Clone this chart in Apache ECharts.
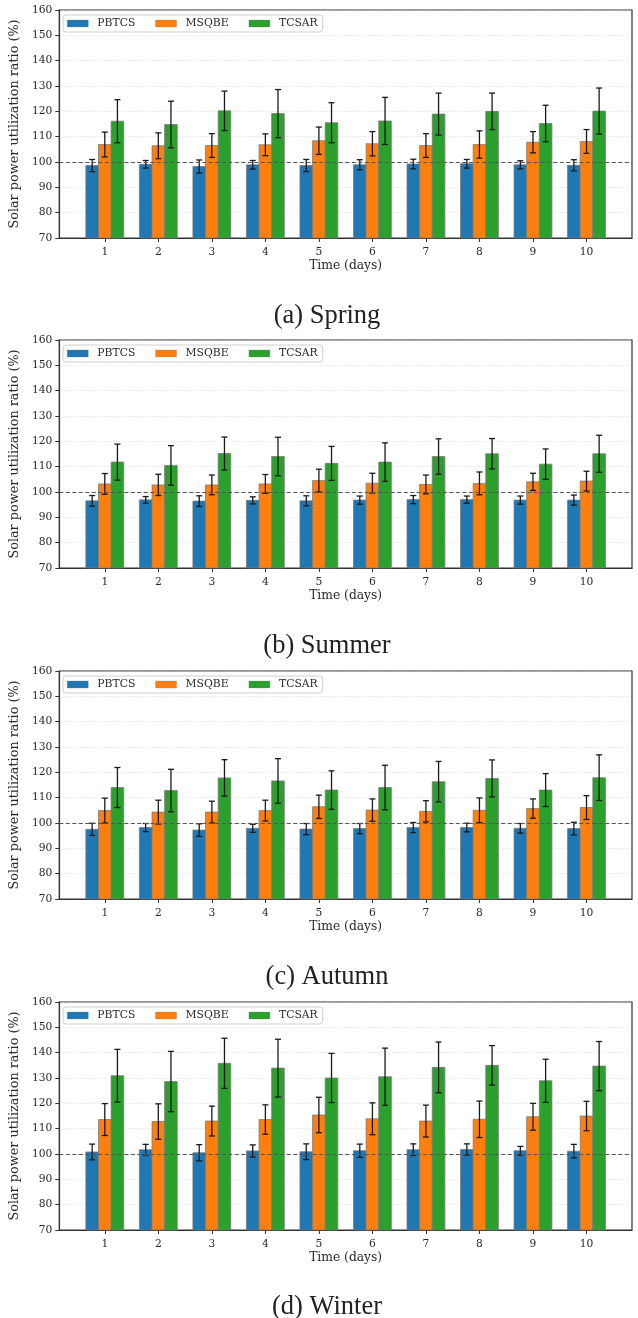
<!DOCTYPE html>
<html>
<head>
<meta charset="utf-8">
<script src="https://cdn.jsdelivr.net/npm/echarts@6/dist/echarts.min.js"></script>
<style>
html,body{margin:0;padding:0;background:#fff;}
#chart{width:638px;height:1318px;}
</style>
</head>
<body>
<div id="chart"></div>
<script>
// ---------- data ----------
const DAYS = [1, 2, 3, 4, 5, 6, 7, 8, 9, 10];
const METHODS = ['PBTCS', 'MSQBE', 'TCSAR'];
const PANEL_TITLES = ['(a) Spring', '(b) Summer', '(c) Autumn', '(d) Winter'];
const Y_TICKS = [70, 80, 90, 100, 110, 120, 130, 140, 150, 160];
const REF_VALUE = 100;

const SPRING_PBTCS = [98.6, 99.1, 98.2, 98.9, 98.6, 98.9, 99.2, 99.3, 98.9, 98.7];
const SPRING_PBTCS_ERR = [2.4, 1.5, 2.6, 1.7, 2.4, 2.0, 1.9, 1.7, 1.6, 2.2];
const SPRING_MSQBE = [106.9, 106.4, 106.5, 106.8, 108.4, 107.2, 106.5, 106.9, 107.8, 108.1];
const SPRING_MSQBE_ERR = [4.9, 5.1, 4.7, 4.3, 5.4, 4.8, 4.7, 5.4, 4.2, 4.7];
const SPRING_TCSAR = [116.1, 114.8, 120.2, 119.1, 115.5, 116.2, 118.9, 120.0, 115.2, 120.1];
const SPRING_TCSAR_ERR = [8.5, 9.2, 7.8, 9.5, 7.9, 9.3, 8.3, 7.2, 7.2, 9.1];

const SUMMER_PBTCS = [96.5, 96.9, 96.4, 96.7, 96.5, 96.8, 97.0, 97.0, 96.8, 96.8];
const SUMMER_PBTCS_ERR = [2.1, 1.3, 2.1, 1.4, 2.0, 1.6, 1.6, 1.4, 1.6, 2.0];
const SUMMER_MSQBE = [103.2, 102.8, 102.8, 103.2, 104.5, 103.5, 103.0, 103.4, 104.0, 104.3];
const SUMMER_MSQBE_ERR = [4.1, 4.2, 3.9, 3.7, 4.5, 3.9, 3.7, 4.5, 3.4, 3.9];
const SUMMER_TCSAR = [111.8, 110.5, 115.2, 114.0, 111.3, 111.8, 114.0, 115.1, 111.0, 115.1];
const SUMMER_TCSAR_ERR = [7.1, 7.8, 6.5, 7.6, 6.7, 7.6, 7.0, 6.0, 6.0, 7.3];

const AUTUMN_PBTCS = [97.5, 98.2, 97.2, 97.9, 97.6, 97.8, 98.2, 98.2, 97.9, 97.8];
const AUTUMN_PBTCS_ERR = [2.4, 1.6, 2.5, 1.6, 2.2, 2.0, 2.0, 1.7, 1.9, 2.5];
const AUTUMN_MSQBE = [104.9, 104.3, 104.3, 104.9, 106.4, 105.1, 104.6, 105.0, 105.7, 106.1];
const AUTUMN_MSQBE_ERR = [4.9, 4.7, 4.3, 4.1, 4.6, 4.4, 4.2, 4.9, 3.8, 4.7];
const AUTUMN_TCSAR = [114.0, 112.8, 117.8, 116.6, 113.0, 114.0, 116.3, 117.6, 113.0, 117.9];
const AUTUMN_TCSAR_ERR = [7.9, 8.4, 7.2, 8.8, 7.6, 8.8, 8.0, 7.3, 6.5, 9.0];

const WINTER_PBTCS = [100.8, 101.7, 100.5, 101.2, 100.9, 101.3, 101.7, 101.8, 101.3, 101.1];
const WINTER_PBTCS_ERR = [3.1, 2.1, 3.2, 2.4, 3.1, 2.6, 2.3, 2.2, 1.7, 2.7];
const WINTER_MSQBE = [113.6, 112.8, 113.0, 113.6, 115.4, 113.9, 113.0, 113.7, 114.7, 115.0];
const WINTER_MSQBE_ERR = [6.3, 7.0, 5.9, 5.8, 7.0, 6.3, 6.3, 7.2, 5.3, 5.8];
const WINTER_TCSAR = [130.9, 128.6, 135.8, 133.9, 130.0, 130.5, 134.2, 135.0, 128.9, 134.7];
const WINTER_TCSAR_ERR = [10.4, 11.9, 9.9, 11.4, 9.7, 11.3, 10.0, 7.8, 8.5, 9.7];

const PANELS = [
  [[SPRING_PBTCS, SPRING_PBTCS_ERR], [SPRING_MSQBE, SPRING_MSQBE_ERR], [SPRING_TCSAR, SPRING_TCSAR_ERR]],
  [[SUMMER_PBTCS, SUMMER_PBTCS_ERR], [SUMMER_MSQBE, SUMMER_MSQBE_ERR], [SUMMER_TCSAR, SUMMER_TCSAR_ERR]],
  [[AUTUMN_PBTCS, AUTUMN_PBTCS_ERR], [AUTUMN_MSQBE, AUTUMN_MSQBE_ERR], [AUTUMN_TCSAR, AUTUMN_TCSAR_ERR]],
  [[WINTER_PBTCS, WINTER_PBTCS_ERR], [WINTER_MSQBE, WINTER_MSQBE_ERR], [WINTER_TCSAR, WINTER_TCSAR_ERR]]
];

// ---------- style ----------
const COLORS = ['#1f77b4', '#ff7f0e', '#2ca02c'];
const X_MIN = 0.15, X_MAX = 10.85;
const Y_MIN = 70, Y_MAX = 160;
const BAR_W = 0.236;
const OFFSETS = [-BAR_W, 0, BAR_W];
const GRID_TOPS = [10, 340, 671, 1002];
const TITLE_TOPS = [298, 628, 959, 1289];
const GRID_H = 228;
const GRID_LEFT = 57, GRID_RIGHT = 6;
const SERIF = 'DejaVu Serif';
const TEXT_COLOR = '#2a2a2a';

function makeRender(offset) {
  return function (params, api) {
    const x = api.value(0) + offset;
    const v = api.value(1), e = api.value(2);
    const top = api.coord([x, v]);
    const base = api.coord([x, Y_MIN]);
    const hi = api.coord([x, v + e]);
    const lo = api.coord([x, v - e]);
    const w = api.size([BAR_W, 0])[0];
    const cap = 3;
    const errStyle = { stroke: '#1a1a1a', lineWidth: 1.3 };
    return {
      type: 'group',
      children: [
        { type: 'rect', shape: { x: top[0] - w / 2, y: top[1], width: w, height: base[1] - top[1] },
          style: { fill: api.visual('color'), stroke: 'rgba(120,120,120,0.75)', lineWidth: 1 } },
        { type: 'line', shape: { x1: top[0], y1: hi[1], x2: top[0], y2: lo[1] }, style: errStyle, z2: 5 },
        { type: 'line', shape: { x1: top[0] - cap, y1: hi[1], x2: top[0] + cap, y2: hi[1] }, style: errStyle, z2: 5 },
        { type: 'line', shape: { x1: top[0] - cap, y1: lo[1], x2: top[0] + cap, y2: lo[1] }, style: errStyle, z2: 5 }
      ]
    };
  };
}

const grids = [], xAxes = [], yAxes = [], series = [], legends = [], titles = [];
PANELS.forEach((panel, p) => {
  grids.push({ left: GRID_LEFT, right: GRID_RIGHT, top: GRID_TOPS[p], height: GRID_H,
    show: true, borderColor: '#333', borderWidth: 1.2, backgroundColor: 'transparent' });
  xAxes.push({
    type: 'value', gridIndex: p, min: X_MIN, max: X_MAX,
    name: 'Time (days)', nameLocation: 'middle', nameGap: 22,
    nameTextStyle: { fontFamily: SERIF, fontSize: 12.3, color: TEXT_COLOR },
    axisLine: { show: true, lineStyle: { color: '#333', width: 1.2 } },
    axisTick: { show: true, length: 4, lineStyle: { color: '#333' }, customValues: DAYS },
    axisLabel: { fontFamily: SERIF, fontSize: 10.7, color: TEXT_COLOR, margin: 9, customValues: DAYS },
    splitLine: { show: false }
  });
  yAxes.push({
    type: 'value', gridIndex: p, min: Y_MIN, max: Y_MAX, interval: 10,
    name: 'Solar power utilization ratio (%)', nameLocation: 'middle', nameGap: 31, nameRotate: 90,
    nameTextStyle: { fontFamily: SERIF, fontSize: 12.8, color: TEXT_COLOR },
    axisLine: { show: true, lineStyle: { color: '#333', width: 1.2 } },
    axisTick: { show: true, length: 4, lineStyle: { color: '#333' } },
    axisLabel: { fontFamily: SERIF, fontSize: 10.7, color: TEXT_COLOR, margin: 7 },
    splitLine: { show: true, lineStyle: { color: '#d4d4d4', type: [1, 2], width: 0.8 } }
  });
  // reference line
  series.push({
    type: 'line', xAxisIndex: p, yAxisIndex: p, data: [], z: 1, silent: true,
    markLine: { silent: true, symbol: 'none', label: { show: false },
      lineStyle: { color: '#555', type: [4, 2.5], width: 1 },
      data: [{ yAxis: REF_VALUE }] }
  });
  panel.forEach((pair, m) => {
    const [vals, errs] = pair;
    series.push({
      type: 'custom', name: METHODS[m], xAxisIndex: p, yAxisIndex: p, z: 3,
      itemStyle: { color: COLORS[m] },
      renderItem: makeRender(OFFSETS[m]),
      encode: { x: 0, y: 1 },
      data: DAYS.map((d, i) => [d, vals[i], errs[i]])
    });
  });
  legends.push({
    left: 63, top: GRID_TOPS[p] + 5, orient: 'horizontal',
    selectedMode: false, z: 10,
    backgroundColor: 'rgba(255,255,255,0.85)', borderColor: '#cfcfcf', borderWidth: 1, borderRadius: 3,
    padding: [3, 5, 3, 4], itemGap: 20, itemWidth: 21, itemHeight: 7,
    textStyle: { fontFamily: SERIF, fontSize: 10.8, color: TEXT_COLOR, padding: [0, 0, 0, 4] },
    data: METHODS.map((n, m) => ({ name: n, icon: 'rect', itemStyle: { color: COLORS[m], borderColor: 'rgba(120,120,120,0.6)', borderWidth: 0.5 } }))
  });
  titles.push({
    text: PANEL_TITLES[p], left: 322, top: TITLE_TOPS[p], textAlign: 'center',
    textStyle: { fontFamily: 'Liberation Serif', fontSize: 26.5, fontWeight: 'normal', color: '#222' }
  });
});

const chart = echarts.init(document.getElementById('chart'), null, { renderer: 'canvas' });
chart.setOption({
  animation: false,
  backgroundColor: '#fff',
  title: titles,
  legend: legends,
  grid: grids,
  xAxis: xAxes,
  yAxis: yAxes,
  series: series
});
</script>
</body>
</html>
